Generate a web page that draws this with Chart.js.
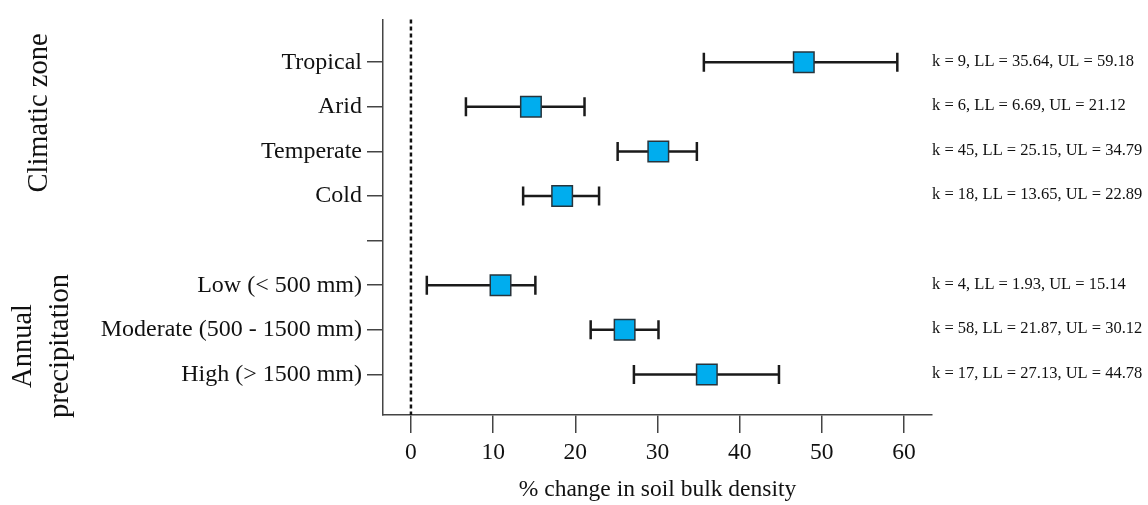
<!DOCTYPE html>
<html>
<head>
<meta charset="utf-8">
<script src="https://cdn.jsdelivr.net/npm/chart.js@4/dist/chart.umd.min.js"></script>
<style>
  body { margin: 0; background: #fff; }
  #wrap { width: 1148px; height: 505px; position: relative; }
</style>
</head>
<body>
<div id="wrap"><canvas id="forest"></canvas></div>
<script>
// rows from top to bottom, "" is the gap between the two groups
const categories = ['Tropical', 'Arid', 'Temperate', 'Cold', '', 'Low (< 500 mm)', 'Moderate (500 - 1500 mm)', 'High (> 1500 mm)'];
const means = [47.8, 14.6, 30.1, 18.4, null, 10.9, 26.0, 36.0];
const lower = [35.64, 6.69, 25.15, 13.65, null, 1.93, 21.87, 27.13];
const upper = [59.18, 21.12, 34.79, 22.89, null, 15.14, 30.12, 44.78];
const kValues = [9, 6, 45, 18, null, 4, 58, 17];
const xTicks = [0, 10, 20, 30, 40, 50, 60];
const groups = [
  { lines: ['Climatic zone'], x: [40], y: 113 },
  { lines: ['Annual', 'precipitation'], x: [24, 61], y: 346 }
];

const serif = '"Liberation Serif", "Times New Roman", serif';
const axisColor = '#444';

let points = [];
for (let i = 0; i < categories.length; i++) {
  if (means[i] != null) points.push({ x: means[i], y: i });
}

function fmt(v) { return v.toFixed(2); }

const forestPlugin = {
  id: 'forest',
  beforeDatasetsDraw(chart) {
    const ctx = chart.ctx;
    const xs = chart.scales.x, ys = chart.scales.y;
    const area = chart.chartArea;
    ctx.save();
    // reference line at zero
    ctx.strokeStyle = '#111';
    ctx.lineWidth = 2.5;
    ctx.setLineDash([4, 3]);
    ctx.beginPath();
    ctx.moveTo(xs.getPixelForValue(0), area.top);
    ctx.lineTo(xs.getPixelForValue(0), area.bottom);
    ctx.stroke();
    ctx.setLineDash([]);
    // confidence intervals
    ctx.strokeStyle = '#1a1a1a';
    ctx.lineWidth = 2.5;
    for (let i = 0; i < categories.length; i++) {
      if (lower[i] == null) continue;
      const y = ys.getPixelForValue(i);
      const x1 = xs.getPixelForValue(lower[i]);
      const x2 = xs.getPixelForValue(upper[i]);
      ctx.beginPath();
      ctx.moveTo(x1, y); ctx.lineTo(x2, y);
      ctx.moveTo(x1, y - 9.5); ctx.lineTo(x1, y + 9.5);
      ctx.moveTo(x2, y - 9.5); ctx.lineTo(x2, y + 9.5);
      ctx.stroke();
    }
    ctx.restore();
  },
  afterDraw(chart) {
    const ctx = chart.ctx;
    const ys = chart.scales.y;
    const area = chart.chartArea;
    ctx.save();
    ctx.fillStyle = '#111';
    // k and limits on the right
    ctx.font = '16.5px ' + serif;
    ctx.textAlign = 'left';
    ctx.textBaseline = 'middle';
    for (let i = 0; i < categories.length; i++) {
      if (kValues[i] == null) continue;
      ctx.fillText('k = ' + kValues[i] + ', LL = ' + fmt(lower[i]) + ', UL = ' + fmt(upper[i]),
        area.right, ys.getPixelForValue(i) - 1);
    }
    // group titles, rotated
    ctx.font = '28.5px ' + serif;
    ctx.textAlign = 'center';
    groups.forEach(g => {
      g.lines.forEach((t, j) => {
        ctx.save();
        ctx.translate(g.x[j], g.y);
        ctx.rotate(-Math.PI / 2);
        ctx.fillText(t, 0, 0);
        ctx.restore();
      });
    });
    ctx.restore();
  }
};

new Chart(document.getElementById('forest'), {
  type: 'scatter',
  data: {
    datasets: [{
      data: points,
      pointStyle: 'rect',
      pointRadius: 14.5,
      pointHoverRadius: 14.5,
      backgroundColor: '#00ADEE',
      borderColor: '#27343c',
      borderWidth: 1.5
    }]
  },
  options: {
    responsive: true,
    maintainAspectRatio: false,
    animation: false,
    events: [],
    layout: { padding: { top: 14, right: 216, left: 0, bottom: 0 } },
    plugins: { legend: { display: false }, tooltip: { enabled: false } },
    scales: {
      x: {
        type: 'linear',
        min: -3.4,
        max: 63.4,
        afterBuildTicks: s => { s.ticks = xTicks.map(v => ({ value: v })); },
        afterFit: s => { s.height = 90; },
        grid: { drawOnChartArea: false, drawTicks: true, tickLength: 18, color: axisColor, lineWidth: 1.5 },
        border: { display: true, color: axisColor, width: 1.5 },
        ticks: { color: '#111', padding: 6, font: { family: serif, size: 23.5 } },
        title: { display: true, text: '% change in soil bulk density', color: '#111', padding: { top: 0, bottom: 1 }, font: { family: serif, size: 23.5 } }
      },
      y: {
        type: 'linear',
        reverse: true,
        min: -0.96,
        max: 7.91,
        afterBuildTicks: s => { s.ticks = categories.map((c, i) => ({ value: i })); },
        afterFit: s => { s.width = 383; },
        grid: { drawOnChartArea: false, drawTicks: true, tickLength: 16, color: axisColor, lineWidth: 1.5 },
        border: { display: true, color: axisColor, width: 1.5 },
        ticks: {
          color: '#111',
          padding: 5,
          font: { family: serif, size: 24 },
          callback: v => categories[v]
        }
      }
    }
  },
  plugins: [forestPlugin]
});
</script>
</body>
</html>
